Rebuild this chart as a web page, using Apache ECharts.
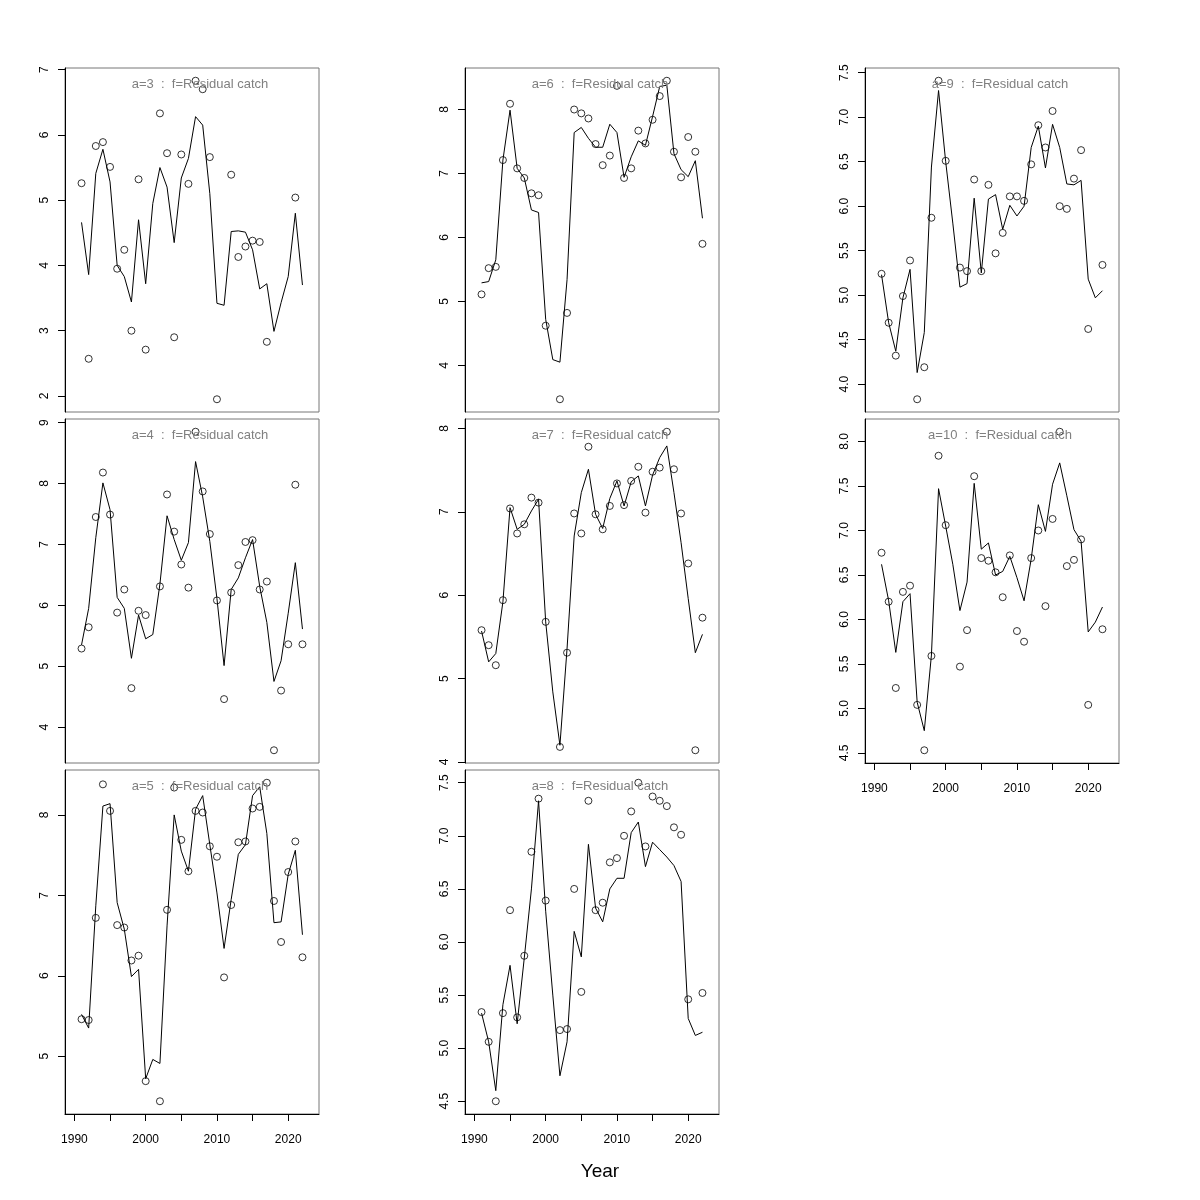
<!DOCTYPE html>
<html><head><meta charset="utf-8">
<script src="https://cdn.jsdelivr.net/npm/echarts@6/dist/echarts.min.js"></script>
<style>html,body{margin:0;padding:0;background:#fff}#c{width:1200px;height:1200px}</style>
</head><body><div id="c"></div>
<script>
const years = [1991,1992,1993,1994,1995,1996,1997,1998,1999,2000,2001,2002,2003,2004,2005,2006,2007,2008,2009,2010,2011,2012,2013,2014,2015,2016,2017,2018,2019,2020,2021,2022];
const xTicks = [1990,1995,2000,2005,2010,2015,2020];
const xTickLabels = [1990,2000,2010,2020];

const obs_a3 = [5.26,2.57,5.83,5.89,5.51,3.95,4.24,3.00,5.32,2.71,null,6.33,5.72,2.90,5.70,5.25,6.83,6.70,5.66,1.95,null,5.39,4.13,4.29,4.38,4.36,2.83,null,null,null,5.04,null];
const fit_a3 = [4.66,3.86,5.41,5.78,5.28,4.00,3.83,3.44,4.70,3.72,4.95,5.50,5.20,4.35,5.34,5.64,6.28,6.15,5.10,3.42,3.39,4.52,4.53,4.51,4.24,3.64,3.72,2.99,3.43,3.83,4.80,3.70];
const yticks_a3 = [2,3,4,5,6,7];

const obs_a4 = [5.29,5.64,7.45,8.18,7.49,5.88,6.26,4.64,5.91,5.84,null,6.31,7.82,7.21,6.67,6.29,8.85,7.87,7.17,6.08,4.46,6.21,6.66,7.04,7.07,6.26,6.39,3.62,4.60,5.36,7.98,5.36];
const fit_a4 = [5.35,5.95,7.11,8.01,7.57,6.13,5.95,5.13,5.84,5.45,5.52,6.35,7.47,7.08,6.74,7.03,8.36,7.78,7.05,6.11,5.01,6.26,6.45,6.78,7.08,6.31,5.72,4.75,5.09,5.87,6.70,5.61];
const yticks_a4 = [4,5,6,7,8,9];

const obs_a5 = [5.46,5.45,6.72,8.38,8.05,6.63,6.60,6.19,6.25,4.69,null,4.44,6.82,8.34,7.69,7.30,8.05,8.03,7.61,7.48,5.98,6.88,7.66,7.67,8.08,8.10,8.40,6.93,6.42,7.29,7.67,6.23];
const fit_a5 = [5.52,5.35,6.87,8.11,8.14,6.91,6.58,5.99,6.08,4.72,4.96,4.91,6.62,8.00,7.55,7.30,8.07,8.24,7.63,7.03,6.34,6.95,7.51,7.63,8.24,8.35,7.77,6.66,6.67,7.26,7.56,6.51];
const yticks_a5 = [5,6,7,8];

const obs_a6 = [5.11,5.52,5.54,7.21,8.09,7.08,6.93,6.69,6.66,4.62,null,3.47,4.82,8.00,7.94,7.86,7.46,7.13,7.28,8.37,6.93,7.08,7.67,7.47,7.84,8.21,8.45,7.34,6.94,7.57,7.34,5.90];
const fit_a6 = [5.29,5.31,5.65,7.21,7.99,7.08,6.93,6.43,6.39,4.72,4.09,4.05,5.34,7.64,7.72,7.55,7.41,7.41,7.77,7.64,6.94,7.26,7.51,7.44,7.89,8.36,8.38,7.31,7.06,6.95,7.20,6.30];
const yticks_a6 = [4,5,6,7,8];

const obs_a7 = [5.58,5.40,5.16,5.94,7.04,6.74,6.85,7.17,7.11,5.68,null,4.18,5.31,6.98,6.74,7.78,6.97,6.79,7.07,7.34,7.08,7.37,7.54,6.99,7.48,7.53,7.96,7.51,6.98,6.38,4.14,5.73];
const fit_a7 = [5.57,5.20,5.30,5.92,7.05,6.79,6.85,7.01,7.15,5.68,4.84,4.20,5.36,6.71,7.23,7.51,6.97,6.80,7.16,7.37,7.07,7.36,7.43,7.07,7.44,7.65,7.79,7.23,6.63,5.96,5.31,5.53];
const yticks_a7 = [4,5,6,7,8];

const obs_a8 = [5.34,5.06,4.50,5.33,6.30,5.29,5.87,6.85,7.35,6.39,null,5.17,5.18,6.50,5.53,7.33,6.30,6.37,6.75,6.79,7.00,7.23,7.50,6.90,7.37,7.33,7.28,7.08,7.01,5.46,null,5.52];
const fit_a8 = [5.33,5.06,4.60,5.41,5.78,5.23,5.85,6.50,7.33,6.29,5.50,4.74,5.06,6.10,5.86,6.92,6.32,6.19,6.50,6.60,6.60,7.03,7.13,6.71,6.94,6.87,6.80,6.72,6.57,5.28,5.12,5.15];
const yticks_a8 = [4.5,5.0,5.5,6.0,6.5,7.0,7.5];

const obs_a9 = [5.24,4.69,4.32,4.99,5.39,3.83,4.19,5.87,7.41,6.51,null,5.31,5.27,6.30,5.27,6.24,5.47,5.70,6.11,6.11,6.06,6.47,6.91,6.66,7.07,6.00,5.97,6.31,6.63,4.62,null,5.34];
const fit_a9 = [5.23,4.69,4.37,4.97,5.29,4.13,4.58,6.44,7.30,6.50,5.81,5.09,5.13,6.09,5.25,6.08,6.13,5.74,6.01,5.89,6.00,6.66,6.90,6.43,6.92,6.66,6.25,6.24,6.29,5.18,4.97,5.05];
const yticks_a9 = [4.0,4.5,5.0,5.5,6.0,6.5,7.0,7.5];

const obs_a10 = [6.75,6.20,5.23,6.31,6.38,5.04,4.53,5.59,7.84,7.06,null,5.47,5.88,7.61,6.69,6.66,6.53,6.25,6.72,5.87,5.75,6.69,7.00,6.15,7.13,8.11,6.60,6.67,6.90,5.04,null,5.89];
const fit_a10 = [6.62,6.21,5.63,6.20,6.29,5.07,4.75,5.60,7.47,7.05,6.62,6.10,6.42,7.53,6.79,6.86,6.50,6.54,6.71,6.47,6.21,6.68,7.29,6.99,7.52,7.76,7.39,7.01,6.88,5.86,5.97,6.14];
const yticks_a10 = [4.5,5.0,5.5,6.0,6.5,7.0,7.5,8.0];

const panels = [
  {label:'a=3  :  f=Residual catch', obs:obs_a3, fit:fit_a3, yt:yticks_a3, dec:0, col:0, row:0, xl:false},
  {label:'a=4  :  f=Residual catch', obs:obs_a4, fit:fit_a4, yt:yticks_a4, dec:0, col:0, row:1, xl:false},
  {label:'a=5  :  f=Residual catch', obs:obs_a5, fit:fit_a5, yt:yticks_a5, dec:0, col:0, row:2, xl:true},
  {label:'a=6  :  f=Residual catch', obs:obs_a6, fit:fit_a6, yt:yticks_a6, dec:0, col:1, row:0, xl:false},
  {label:'a=7  :  f=Residual catch', obs:obs_a7, fit:fit_a7, yt:yticks_a7, dec:0, col:1, row:1, xl:false},
  {label:'a=8  :  f=Residual catch', obs:obs_a8, fit:fit_a8, yt:yticks_a8, dec:1, col:1, row:2, xl:true},
  {label:'a=9  :  f=Residual catch', obs:obs_a9, fit:fit_a9, yt:yticks_a9, dec:1, col:2, row:0, xl:false},
  {label:'a=10  :  f=Residual catch', obs:obs_a10, fit:fit_a10, yt:yticks_a10, dec:1, col:2, row:1, xl:true}
];

const LEFT = [65, 465, 865], TOP = [68, 419, 770], W = 254, H = 344;
const X_MIN = 1990 - 0.04 * 33, X_MAX = 2023 + 0.04 * 33;
const FONT = '"Liberation Sans", Arial, Helvetica, sans-serif';

function yRange(obs, fit) {
  const v = obs.concat(fit).filter(x => x != null);
  const lo = Math.min(...v), hi = Math.max(...v), d = (hi - lo) * 0.04;
  return [lo - d, hi + d];
}

const grid = [], xAxis = [], yAxis = [], series = [], graphic = [];
panels.forEach((p, i) => {
  grid.push({left: LEFT[p.col], top: TOP[p.row], width: W, height: H, show: true,
    borderColor: '#777', borderWidth: 1, backgroundColor: 'transparent', containLabel: false});
  xAxis.push({type: 'value', gridIndex: i, min: X_MIN, max: X_MAX,
    axisLine: {show: p.xl, onZero: false, lineStyle: {color: '#000', width: 1}},
    axisTick: {show: p.xl, length: 7, customValues: xTicks, lineStyle: {color: '#000', width: 1}},
    axisLabel: {show: p.xl, customValues: xTickLabels, margin: 20, fontSize: 12, color: '#000', fontFamily: FONT,
      formatter: v => String(v)},
    splitLine: {show: false}});
  const r = yRange(p.obs, p.fit);
  yAxis.push({type: 'value', gridIndex: i, min: r[0], max: r[1],
    axisLine: {show: true, onZero: false, lineStyle: {color: '#000', width: 1}},
    axisTick: {show: true, length: 7, customValues: p.yt, lineStyle: {color: '#000', width: 1}},
    axisLabel: {show: true, customValues: p.yt, rotate: 90, margin: 14, fontSize: 12, color: '#000', fontFamily: FONT,
      formatter: v => Number(v).toFixed(p.dec)},
    splitLine: {show: false}});
  series.push({type: 'line', xAxisIndex: i, yAxisIndex: i, data: years.map((y, k) => [y, p.fit[k]]),
    symbol: 'none', lineStyle: {color: '#000', width: 1}, z: 2, silent: true});
  series.push({type: 'scatter', xAxisIndex: i, yAxisIndex: i,
    data: years.map((y, k) => [y, p.obs[k]]).filter(d => d[1] != null),
    symbol: 'circle', symbolSize: 7,
    itemStyle: {color: 'rgba(0,0,0,0)', borderColor: '#000', borderWidth: 1}, z: 3, silent: true});
  graphic.push({type: 'text', x: LEFT[p.col] + W / 2 + 8, y: TOP[p.row] + 16, z: 10,
    style: {text: p.label, fill: '#808080', font: '13px ' + FONT, align: 'center', verticalAlign: 'middle',
      textAlign: 'center', textVerticalAlign: 'middle'}});
});
graphic.push({type: 'text', x: 600, y: 1172,
  style: {text: 'Year', fill: '#000', font: '19px ' + FONT, align: 'center', verticalAlign: 'middle',
    textAlign: 'center', textVerticalAlign: 'middle'}});

const chart = echarts.init(document.getElementById('c'), null, {renderer: 'canvas'});
chart.setOption({animation: false, backgroundColor: '#fff', grid, xAxis, yAxis, series, graphic});
</script>
</body></html>
